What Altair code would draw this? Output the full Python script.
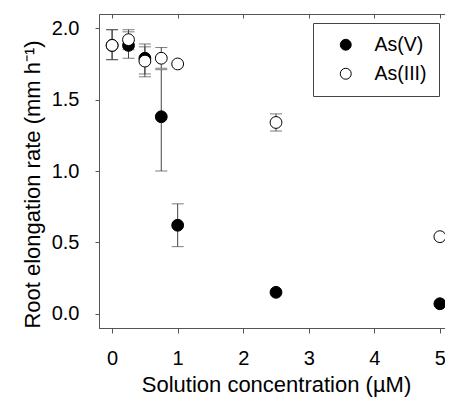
import altair as alt
import pandas as pd

# ---- data ----
conc = [0, 0.25, 0.5, 0.75, 1, 2.5, 5]
as_v = [1.88, 1.88, 1.79, 1.38, 0.62, 0.15, 0.07]
as_v_lo = [1.78, 1.79, 1.66, 1.00, 0.47, None, None]
as_v_hi = [1.99, 1.975, 1.89, 1.71, 0.77, None, None]
as_iii = [1.88, 1.92, 1.77, 1.79, 1.75, 1.34, 0.54]
as_iii_lo = [1.78, 1.85, 1.68, 1.72, None, 1.28, None]
as_iii_hi = [1.99, 1.99, 1.87, 1.865, None, 1.40, None]
series = ["As(V)", "As(III)"]
x_ticks = [0, 1, 2, 3, 4, 5]
y_ticks = [0.0, 0.5, 1.0, 1.5, 2.0]

rows = []
for name, vals, los, his in [(series[0], as_v, as_v_lo, as_v_hi),
                             (series[1], as_iii, as_iii_lo, as_iii_hi)]:
    for c, v, lo, hi in zip(conc, vals, los, his):
        rows.append({"conc": c, "val": v, "lo": lo, "hi": hi, "series": name})
df = pd.DataFrame(rows)
err = df.dropna(subset=["lo", "hi"])

FONT = "Liberation Sans"
xs = alt.Scale(domain=[-0.2, 5.2], nice=False, zero=False)
ys = alt.Scale(domain=[-0.1, 2.1], nice=False, zero=False)
ecol = "#444444"

rule = alt.Chart(err).mark_rule(color=ecol, strokeWidth=1).encode(
    x=alt.X("conc:Q", scale=xs, axis=None),
    y=alt.Y("lo:Q", scale=ys, axis=None),
    y2="hi:Q",
)
cap_lo = alt.Chart(err).mark_tick(color=ecol, orient="horizontal", size=12, thickness=1).encode(
    x=alt.X("conc:Q", scale=xs, axis=None),
    y=alt.Y("lo:Q", scale=ys, axis=None),
)
cap_hi = alt.Chart(err).mark_tick(color=ecol, orient="horizontal", size=12, thickness=1).encode(
    x=alt.X("conc:Q", scale=xs, axis=None),
    y=alt.Y("hi:Q", scale=ys, axis=None),
)

points = alt.Chart(df).mark_point(filled=True, size=140, stroke="black", strokeWidth=1, opacity=1).encode(
    x=alt.X("conc:Q", scale=xs,
            axis=alt.Axis(values=x_ticks, format="d", title="Solution concentration (µM)",
                          tickSize=5, labelPadding=31, labelBaseline="alphabetic",
                          titleX=177, titleY=63, titleBaseline="alphabetic")),
    y=alt.Y("val:Q", scale=ys,
            axis=alt.Axis(values=y_ticks, format=".1f", title="Root elongation rate (mm h⁻¹)",
                          tickSize=4, labelPadding=16,
                          titleX=-67, titleY=170, titleBaseline="middle", titleAngle=270)),
    fill=alt.Fill("series:N", scale=alt.Scale(domain=series, range=["black", "white"]),
                  legend=alt.Legend(title=None, orient="none", legendX=214, legendY=9,
                                    strokeColor="#444444", fillColor="white", padding=12,
                                    symbolOffset=11, labelOffset=19, rowPadding=8,
                                    symbolType="circle", symbolSize=120,
                                    symbolStrokeColor="black", symbolStrokeWidth=1,
                                    labelFontSize=19.5, labelFont=FONT, labelColor="black")),
)

frame = alt.Chart(df).mark_point(opacity=0).encode(
    x=alt.X("conc:Q", scale=xs,
            axis=alt.Axis(orient="top", values=x_ticks, labels=False, title=None,
                          domain=False, tickSize=4, offset=-4)),
    y=alt.Y("val:Q", scale=ys,
            axis=alt.Axis(orient="right", values=y_ticks, labels=False, title=None,
                          domain=False, tickSize=4, offset=-4)),
)

chart = alt.layer(rule, cap_lo, cap_hi, points, frame).resolve_axis(
    x="independent", y="independent"
).properties(
    width=354, height=314,
    autosize=alt.AutoSizeParams(type="none"),
    padding={"left": 91, "top": 6, "right": -8, "bottom": 71},
).configure_axis(
    grid=False, domainColor="#555555", tickColor="#555555",
    labelFont=FONT, labelFontSize=20, labelColor="black",
    titleFont=FONT, titleFontSize=22, titleFontWeight="normal", titleColor="black",
).configure_view(stroke="#555555", strokeWidth=1)

chart.save("out.html", embed_options={"renderer": "svg", "actions": False})
